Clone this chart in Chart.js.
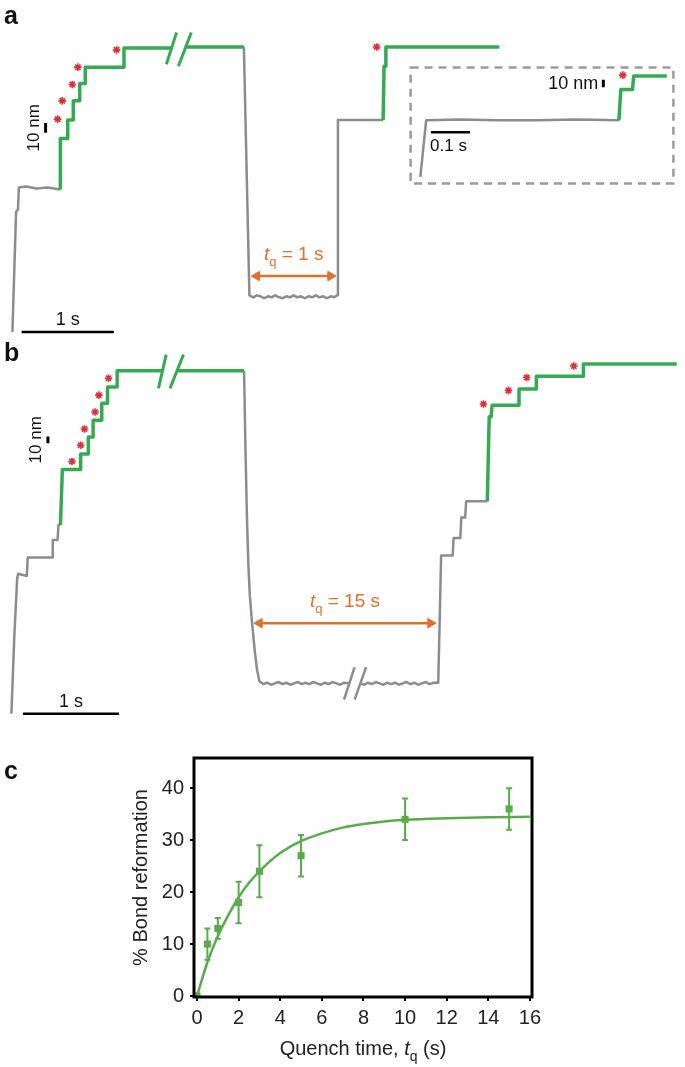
<!DOCTYPE html>
<html>
<head>
<meta charset="utf-8">
<script src="https://cdn.jsdelivr.net/npm/chart.js@4"></script>
<style>
body { margin: 0; background: #fff; }
#page { position: relative; width: 685px; height: 1067px; overflow: hidden; font-family: "Liberation Sans", Arial, sans-serif; }
canvas { position: absolute; }
.lbl { position: absolute; font-weight: bold; font-size: 25px; line-height: 25px; color: #111; }
</style>
</head>
<body>
<div id="page">
  <canvas id="chartA" width="685" height="350" style="left:0px;top:0px"></canvas>
  <canvas id="insetA" width="274" height="127" style="left:405px;top:62px"></canvas>
  <canvas id="chartB" width="685" height="390" style="left:0px;top:340px"></canvas>
  <canvas id="chartC" width="685" height="327" style="left:0px;top:740px"></canvas>
  <div class="lbl" style="left:4px;top:3px">a</div>
  <div class="lbl" style="left:4px;top:340px">b</div>
  <div class="lbl" style="left:4px;top:758px">c</div>
</div>
<script>
const FONT = '"Liberation Sans", Arial, sans-serif';
const GRAY = '#8c8c8c';
const GREEN = '#34aa53';
const RED = '#d8313c';
const ORANGE = '#e0702c';
const CGREEN = '#5aab4c';

// panel a: time (s), extension (nm)
const aGray1 = [[0, 0], [0.04, 125], [0.06, 127], [0.07, 150], [0.15, 151], [0.26, 149], [0.38, 150], [0.52, 148]];
const aGreen1 = [[0.52, 148], [0.52, 201], [0.60, 201], [0.60, 220], [0.66, 220], [0.66, 240], [0.73, 240], [0.73, 258],
  [0.79, 258], [0.79, 275], [1.21, 275], [1.21, 295], [1.72, 295]];
const aGreen2 = [[1.87, 296], [2.51, 296]];
const aGray2 = [[2.51, 296], [2.57, 38], [2.61, 36], [2.65, 38], [2.69, 37], [2.73, 35], [2.77, 37], [2.81, 36], [2.85, 38],
  [2.89, 36], [2.93, 35], [2.97, 37], [3.01, 36], [3.05, 38], [3.09, 36], [3.13, 37], [3.17, 35], [3.21, 37], [3.25, 36],
  [3.29, 38], [3.33, 36], [3.37, 37], [3.41, 35], [3.45, 37], [3.49, 36], [3.52, 38], [3.53, 220], [4.02, 220]];
const aGreen3 = [[4.02, 220], [4.03, 276], [4.05, 276], [4.05, 296], [5.28, 296]];
const aBreak1 = [[1.67, 278], [1.78, 311]];
const aBreak2 = [[1.80, 276], [1.94, 311]];
const aStars = [[0.49, 221], [0.54, 240], [0.65, 257], [0.71, 275], [1.13, 293], [3.95, 296]];
const aArrow = [[2.65, 58], [3.45, 58]];
const aBar1s = [[0.10, 0], [1.10, 0]];
const aBar10nm = [[0.36, 207], [0.36, 217]];

// inset of panel a
const insetGray = [[0, 0], [0.015, 75], [0.1, 76], [0.2, 75], [0.3, 75], [0.4, 76], [0.51, 75]];
const insetGreen = [[0.51, 75], [0.515, 116], [0.545, 116], [0.548, 134], [0.633, 134]];
const insetStars = [[0.52, 135]];
const insetBar01s = [[0.0275, 59], [0.1275, 59]];
const insetBar10nm = [[0.47, 119], [0.47, 129]];

// panel b
const bGray1 = [[0, 0], [0.03, 114], [0.06, 200], [0.07, 207], [0.15, 204], [0.16, 204], [0.17, 231], [0.43, 231],
  [0.43, 257], [0.48, 257], [0.49, 279], [0.51, 279]];
const bGreen1 = [[0.51, 279], [0.53, 361], [0.72, 361], [0.72, 384], [0.80, 384], [0.80, 409], [0.85, 409], [0.85, 434],
  [0.94, 434], [0.94, 459], [1.00, 459], [1.00, 483], [1.10, 483], [1.10, 507], [1.57, 507]];
const bGreen2 = [[1.72, 507], [2.42, 507]];
const bGray2 = [[2.42, 507], [2.435, 390], [2.45, 290], [2.465, 220], [2.48, 175], [2.50, 140], [2.53, 95], [2.555, 65],
  [2.58, 48], [2.62, 44], [2.66, 46], [2.70, 43], [2.74, 45], [2.78, 47], [2.82, 44], [2.86, 46], [2.90, 43], [2.94, 45],
  [2.98, 47], [3.02, 44], [3.06, 46], [3.10, 44], [3.14, 47], [3.18, 45], [3.22, 43], [3.26, 46], [3.30, 44], [3.34, 47],
  [3.38, 45], [3.42, 43], [3.46, 46], [3.52, 45]];
const bGray3 = [[3.63, 45], [3.67, 43], [3.71, 46], [3.75, 44], [3.79, 47], [3.83, 45], [3.87, 43], [3.91, 46], [3.95, 44],
  [3.99, 46], [4.03, 43], [4.07, 45], [4.11, 47], [4.15, 44], [4.19, 46], [4.23, 43], [4.27, 45], [4.31, 47], [4.35, 44],
  [4.39, 46], [4.44, 46], [4.47, 234], [4.59, 234], [4.60, 260], [4.67, 260], [4.68, 290], [4.72, 290], [4.73, 314], [4.95, 314]];
const bGreen3 = [[4.95, 314], [4.97, 439], [4.99, 439], [5.00, 456], [5.28, 456], [5.28, 480], [5.46, 480], [5.46, 499],
  [5.95, 499], [5.95, 517], [6.92, 517]];
const bBreak1 = [[1.53, 481], [1.61, 531]];
const bBreak2 = [[1.65, 481], [1.79, 531]];
const bBreak3 = [[3.46, 21], [3.57, 69]];
const bBreak4 = [[3.57, 21], [3.69, 69]];
const bStars = [[0.63, 373], [0.72, 397], [0.76, 421], [0.87, 446], [0.91, 471], [1.01, 496],
  [4.91, 458], [5.17, 478], [5.36, 497], [5.85, 514]];
const bArrow = [[2.58, 134], [4.36, 134]];
const bBar1s = [[0.12, 0], [1.12, 0]];
const bBar10nm = [[0.38, 400], [0.38, 410]];

// panel c
const quenchTime = [0, 0.5, 1, 2, 3, 5, 10, 15];
const reformation = [0, 10, 13, 18, 24, 27, 34, 36];
const reformationErr = [0, 3, 2, 4, 5, 4, 4, 4];
const fitTime = [0, 0.5, 1, 1.5, 2, 2.5, 3, 4, 5, 6, 7, 8, 9, 10, 12, 14, 16];
const fitValue = [0, 6.5, 11.5, 15.5, 19, 21.8, 24, 27.5, 29.8, 31.3, 32.4, 33.1, 33.6, 33.9, 34.2, 34.4, 34.5];
const xTicks = [0, 2, 4, 6, 8, 10, 12, 14, 16];
const yTicks = [0, 10, 20, 30, 40];

function pts(arr) {
  return arr.map(p => ({ x: p[0], y: p[1] }));
}

function line(arr, color, width) {
  return {
    data: pts(arr), showLine: true, borderColor: color, borderWidth: width,
    pointRadius: 0, fill: false, tension: 0, borderJoinStyle: 'round', borderCapStyle: 'butt'
  };
}

function arrow(arr) {
  return {
    data: pts(arr), showLine: true, borderColor: ORANGE, borderWidth: 2.5,
    pointStyle: 'triangle', pointRadius: 5.5, pointRotation: [-90, 90],
    pointBackgroundColor: ORANGE, pointBorderColor: ORANGE, pointBorderWidth: 1
  };
}

function stars(arr) {
  return {
    data: pts(arr), showLine: false, pointStyle: 'star', pointRadius: 3.8,
    pointBorderColor: RED, pointBorderWidth: 1.6
  };
}

function traceOptions(xmin, xmax, ymin, ymax, pad) {
  return {
    responsive: false,
    animation: false,
    events: [],
    layout: { padding: pad || 0 },
    plugins: { legend: { display: false }, tooltip: { enabled: false } },
    scales: {
      x: { type: 'linear', display: false, min: xmin, max: xmax },
      y: { type: 'linear', display: false, min: ymin, max: ymax }
    }
  };
}

function drawRich(ctx, parts, cx, by, size, color) {
  const fonts = {
    n: `${size}px ${FONT}`,
    i: `italic ${size}px ${FONT}`,
    s: `${Math.round(size * 0.68)}px ${FONT}`
  };
  let total = 0;
  parts.forEach(p => { ctx.font = fonts[p[1]]; total += ctx.measureText(p[0]).width; });
  let x = cx - total / 2;
  ctx.fillStyle = color;
  ctx.textAlign = 'left';
  ctx.textBaseline = 'alphabetic';
  parts.forEach(p => {
    ctx.font = fonts[p[1]];
    ctx.fillText(p[0], x, p[1] === 's' ? by + size * 0.3 : by);
    x += ctx.measureText(p[0]).width;
  });
}

function traceLabels(bar1s, bar10nm, arr, tqText, nmSize) {
  return {
    id: 'traceLabels',
    afterDatasetsDraw(chart) {
      const { ctx, scales: { x, y } } = chart;
      ctx.save();
      ctx.fillStyle = '#111';
      ctx.font = `18px ${FONT}`;
      ctx.textAlign = 'center';
      ctx.textBaseline = 'alphabetic';
      ctx.fillText('1 s', x.getPixelForValue((bar1s[0][0] + bar1s[1][0]) / 2), y.getPixelForValue(bar1s[0][1]) - 7);

      const bx = x.getPixelForValue(bar10nm[0][0]);
      const by = y.getPixelForValue((bar10nm[0][1] + bar10nm[1][1]) / 2);
      ctx.save();
      ctx.translate(bx - 3, by);
      ctx.rotate(-Math.PI / 2);
      ctx.font = `${nmSize}px ${FONT}`;
      ctx.textBaseline = 'bottom';
      ctx.fillText('10 nm', 0, 0);
      ctx.restore();

      const ax = x.getPixelForValue((arr[0][0] + arr[1][0]) / 2);
      const ay = y.getPixelForValue(arr[0][1]);
      drawRich(ctx, [['t', 'i'], ['q', 's'], [tqText, 'n']], ax, ay - 16, 19, ORANGE);
      ctx.restore();
    }
  };
}

const insetLabels = {
  id: 'insetLabels',
  afterDatasetsDraw(chart) {
    const { ctx, chartArea: a, scales: { x, y } } = chart;
    ctx.save();
    ctx.strokeStyle = '#9a9a9a';
    ctx.lineWidth = 2.5;
    ctx.setLineDash([8, 6]);
    ctx.strokeRect(a.left, a.top, a.right - a.left, a.bottom - a.top);
    ctx.setLineDash([]);
    ctx.fillStyle = '#111';
    ctx.font = `18px ${FONT}`;
    ctx.textAlign = 'right';
    ctx.textBaseline = 'middle';
    ctx.fillText('10 nm', x.getPixelForValue(insetBar10nm[0][0]) - 5,
      y.getPixelForValue((insetBar10nm[0][1] + insetBar10nm[1][1]) / 2) + 1);
    ctx.font = `17px ${FONT}`;
    ctx.textAlign = 'left';
    ctx.textBaseline = 'top';
    ctx.fillText('0.1 s', x.getPixelForValue(insetBar01s[0][0]) - 1, y.getPixelForValue(insetBar01s[0][1]) + 5);
    ctx.restore();
  }
};

new Chart(document.getElementById('chartA'), {
  type: 'scatter',
  data: {
    datasets: [
      stars(aStars),
      line(aBar1s, '#000', 2.5), line(aBar10nm, '#000', 3),
      arrow(aArrow),
      line(aBreak1, GREEN, 3), line(aBreak2, GREEN, 3),
      line(aGreen1, GREEN, 3.5), line(aGreen2, GREEN, 3.5), line(aGreen3, GREEN, 3.5),
      line(aGray1, GRAY, 2.5), line(aGray2, GRAY, 2.5)
    ]
  },
  options: traceOptions(-0.064, 7.223, -12, 338),
  plugins: [traceLabels(aBar1s, aBar10nm, aArrow, ' = 1 s', 17)]
});

new Chart(document.getElementById('insetA'), {
  type: 'scatter',
  data: {
    datasets: [
      stars(insetStars),
      line(insetBar01s, '#000', 2.5), line(insetBar10nm, '#000', 3),
      line(insetGreen, GREEN, 3.5), line(insetGray, GRAY, 2.5)
    ]
  },
  options: traceOptions(-0.025, 0.65, -8.75, 145, 2),
  plugins: [insetLabels]
});

new Chart(document.getElementById('chartB'), {
  type: 'scatter',
  data: {
    datasets: [
      stars(bStars),
      line(bBar1s, '#000', 2.5), line(bBar10nm, '#000', 3),
      arrow(bArrow),
      line(bBreak1, GREEN, 3), line(bBreak2, GREEN, 3), line(bBreak3, GRAY, 2.5), line(bBreak4, GRAY, 2.5),
      line(bGreen1, GREEN, 3.5), line(bGreen2, GREEN, 3.5), line(bGreen3, GREEN, 3.5),
      line(bGray1, GRAY, 2.5), line(bGray2, GRAY, 2.5), line(bGray3, GRAY, 2.5)
    ]
  },
  options: traceOptions(-0.051, 6.939, -14.3, 542.9),
  plugins: [traceLabels(bBar1s, bBar10nm, bArrow, ' = 15 s', 17)]
});

const cDecor = {
  id: 'cDecor',
  afterDatasetsDraw(chart) {
    const { ctx, chartArea: a, scales: { x, y } } = chart;
    ctx.save();
    // error bars
    ctx.strokeStyle = CGREEN;
    ctx.lineWidth = 2;
    quenchTime.forEach((t, i) => {
      if (!reformationErr[i]) return;
      const px = x.getPixelForValue(t);
      const top = y.getPixelForValue(reformation[i] + reformationErr[i]);
      const bot = y.getPixelForValue(reformation[i] - reformationErr[i]);
      ctx.beginPath();
      ctx.moveTo(px, top); ctx.lineTo(px, bot);
      ctx.moveTo(px - 3, top); ctx.lineTo(px + 3, top);
      ctx.moveTo(px - 3, bot); ctx.lineTo(px + 3, bot);
      ctx.stroke();
    });
    // frame
    ctx.strokeStyle = '#000';
    ctx.lineWidth = 3;
    ctx.strokeRect(a.left, a.top, a.right - a.left, a.bottom - a.top);
    // axis titles
    drawRich(ctx, [['Quench time, ', 'n'], ['t', 'i'], ['q', 's'], [' (s)', 'n']],
      (a.left + a.right) / 2, a.bottom + 58, 20, '#222');
    ctx.save();
    ctx.translate(a.left - 54, (a.top + a.bottom) / 2);
    ctx.rotate(-Math.PI / 2);
    drawRich(ctx, [['% Bond reformation', 'n']], 0, 7, 20, '#222');
    ctx.restore();
    ctx.restore();
  }
};

new Chart(document.getElementById('chartC'), {
  type: 'scatter',
  data: {
    datasets: [
      {
        data: quenchTime.map((t, i) => ({ x: t, y: reformation[i] })),
        pointStyle: 'rect', pointRadius: 5, pointBackgroundColor: CGREEN, pointBorderColor: CGREEN, pointBorderWidth: 0
      },
      {
        data: fitTime.map((t, i) => ({ x: t, y: fitValue[i] })),
        showLine: true, borderColor: CGREEN, borderWidth: 2.5, pointRadius: 0,
        cubicInterpolationMode: 'monotone'
      }
    ]
  },
  options: {
    responsive: false,
    animation: false,
    events: [],
    layout: { padding: { left: 0, right: 153, top: 18, bottom: 0 } },
    plugins: { legend: { display: false }, tooltip: { enabled: false } },
    scales: {
      x: {
        type: 'linear', min: -0.144, max: 16.1,
        afterBuildTicks: s => { s.ticks = xTicks.map(v => ({ value: v })); },
        afterFit: s => { s.height = 70; },
        ticks: { color: '#222', font: { family: FONT, size: 20 }, padding: 5, maxRotation: 0 },
        grid: { drawOnChartArea: false, drawTicks: true, tickLength: 4, color: '#000', lineWidth: 2 },
        border: { display: false }
      },
      y: {
        type: 'linear', min: -0.19, max: 45.8,
        afterBuildTicks: s => { s.ticks = yTicks.map(v => ({ value: v })); },
        afterFit: s => { s.width = 194; },
        ticks: { color: '#222', font: { family: FONT, size: 20 }, padding: 6 },
        grid: { drawOnChartArea: false, drawTicks: true, tickLength: 4, color: '#000', lineWidth: 2 },
        border: { display: false }
      }
    }
  },
  plugins: [cDecor]
});
</script>
</body>
</html>
